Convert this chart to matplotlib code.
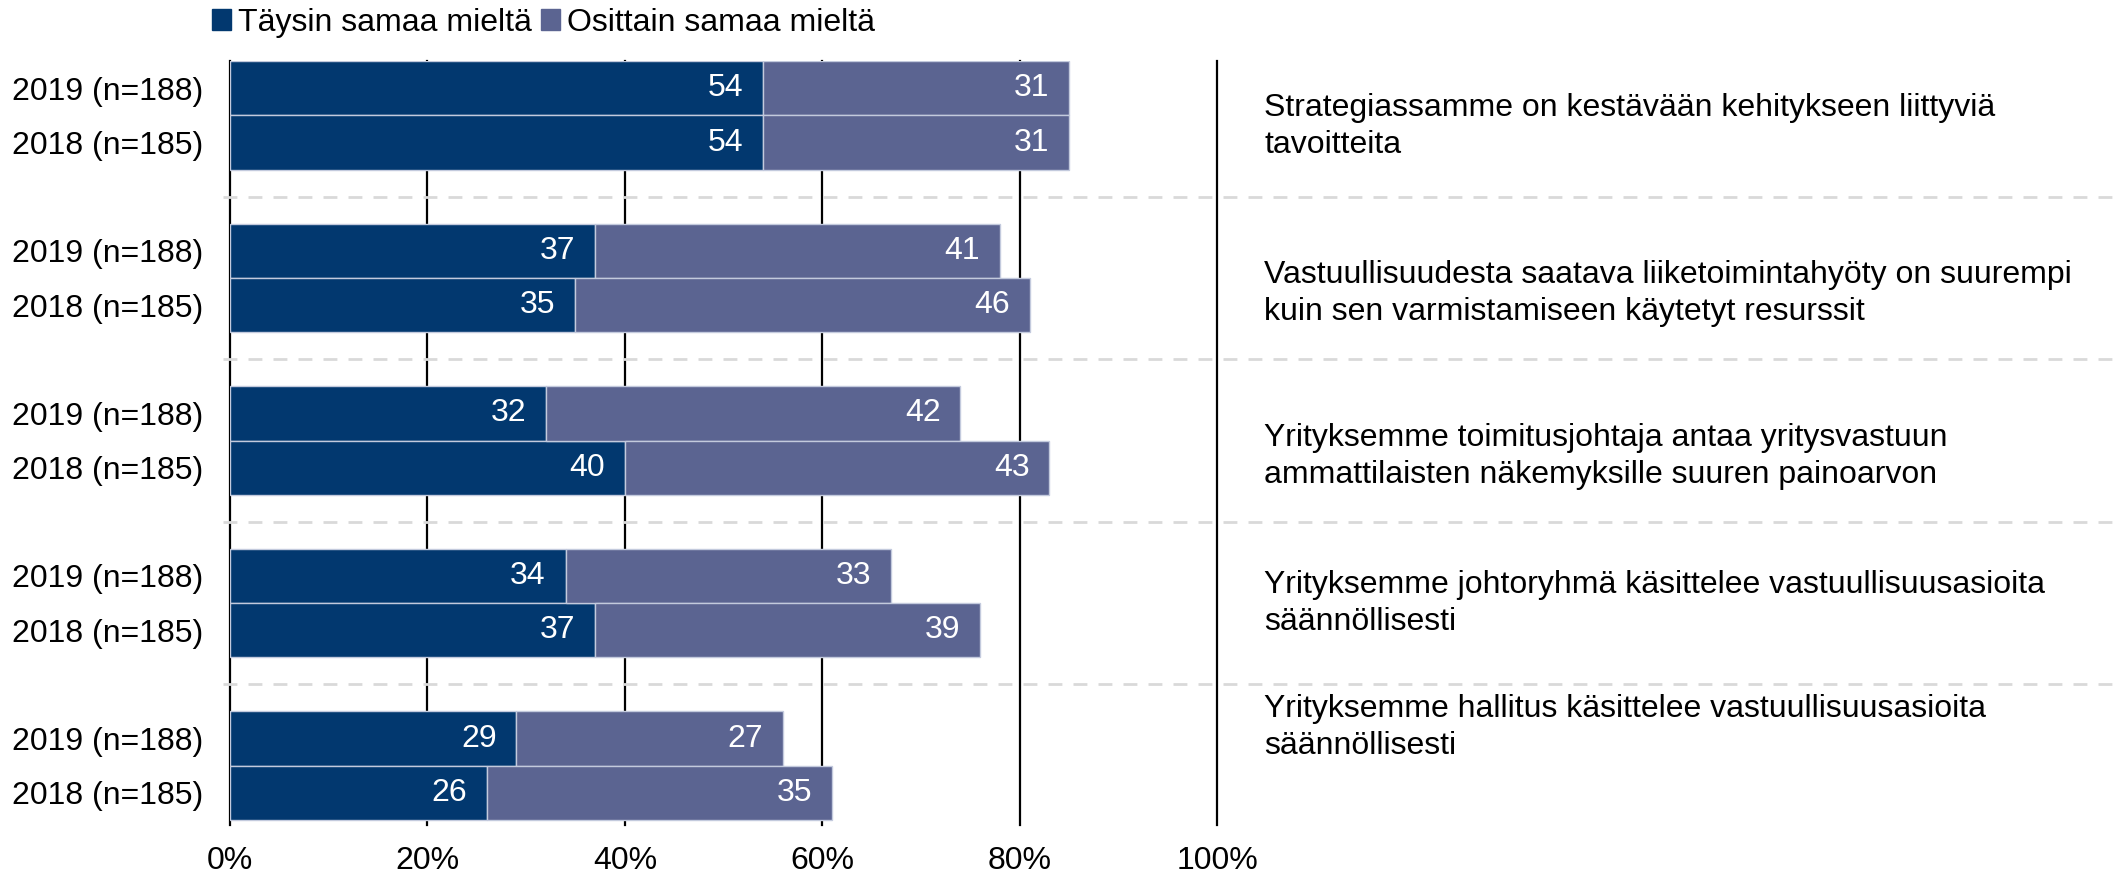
import numpy as np
import matplotlib
matplotlib.use("Agg")
import matplotlib.pyplot as plt
from matplotlib.patches import Patch

plt.rcParams['font.family'] = ['Liberation Sans', 'DejaVu Sans']

# data
statements = [
    "Strategiassamme on kestävään kehitykseen liittyviä\ntavoitteita",
    "Vastuullisuudesta saatava liiketoimintahyöty on suurempi\nkuin sen varmistamiseen käytetyt resurssit",
    "Yrityksemme toimitusjohtaja antaa yritysvastuun\nammattilaisten näkemyksille suuren painoarvon",
    "Yrityksemme johtoryhmä käsittelee vastuullisuusasioita\nsäännöllisesti",
    "Yrityksemme hallitus käsittelee vastuullisuusasioita\nsäännöllisesti",
]
years = ["2019 (n=188)", "2018 (n=185)"]
tays_2019 = [54, 37, 32, 34, 29]
osit_2019 = [31, 41, 42, 33, 27]
tays_2018 = [54, 35, 40, 37, 26]
osit_2018 = [31, 46, 43, 39, 35]
series_names = ["Täysin samaa mieltä", "Osittain samaa mieltä"]
xticks = [0, 20, 40, 60, 80, 100]

c_dark = "#02386F"
c_light = "#5B6491"
fs = 23

fig = plt.figure(figsize=(21.2, 8.76), dpi=100)
ax = fig.add_axes([0.1085, 0.058, 0.4656, 0.872])

ypos, tays, osit, ylabels = [], [], [], []
for g in range(len(statements)):
    ypos += [g*3, g*3+1]
    tays += [tays_2019[g], tays_2018[g]]
    osit += [osit_2019[g], osit_2018[g]]
    ylabels += years
ypos = np.array(ypos); tays = np.array(tays); osit = np.array(osit)

for x in xticks:
    ax.axvline(x, color="black", lw=1.6, zorder=0, clip_on=False)

ax.barh(ypos, tays, height=1.0, color=c_dark, edgecolor="#C3CADD", lw=1, zorder=2)
ax.barh(ypos, osit, left=tays, height=1.0, color=c_light, edgecolor="#C3CADD", lw=1, zorder=2)

for y, a, b in zip(ypos, tays, osit):
    ax.text(a - 2.0, y, str(a), color="white", fontsize=fs, ha="right", va="center", zorder=3)
    ax.text(a + b - 2.0, y, str(b), color="white", fontsize=fs, ha="right", va="center", zorder=3)

# separators between groups
for g in range(len(statements) - 1):
    ax.plot([-0.7, 191.5], [g*3 + 2, g*3 + 2], color="#D9D9D9", lw=2,
            dashes=(5, 4), clip_on=False, zorder=1)

# statement texts on the right
text_shift = [0.21, 0.28, 0.3, 0.0, -0.7]
for g, s in enumerate(statements):
    ax.text(104.8, g*3 + 0.5 + text_shift[g], s, fontsize=fs, ha="left", va="center",
            linespacing=1.3)

ax.set_xlim(0, 100)
ax.set_ylim(13.6, -0.5)
ax.set_yticks(ypos)
ax.set_yticklabels(ylabels, fontsize=fs)
ax.set_xticks(xticks)
ax.set_xticklabels([f"{x}%" for x in xticks], fontsize=fs)
ax.tick_params(axis="y", length=0, pad=19)
ax.tick_params(axis="x", length=0, pad=15)
for sp in ax.spines.values():
    sp.set_visible(False)

handles = [Patch(color=c_dark), Patch(color=c_light)]
fig.legend(handles, series_names, loc="center left", bbox_to_anchor=(0.1, 0.974),
           ncol=2, frameon=False, fontsize=fs, handlelength=0.6, handleheight=0.6,
           handletextpad=0.2, columnspacing=0.3, borderaxespad=0, borderpad=0)

fig.savefig("out.png", dpi=100)
